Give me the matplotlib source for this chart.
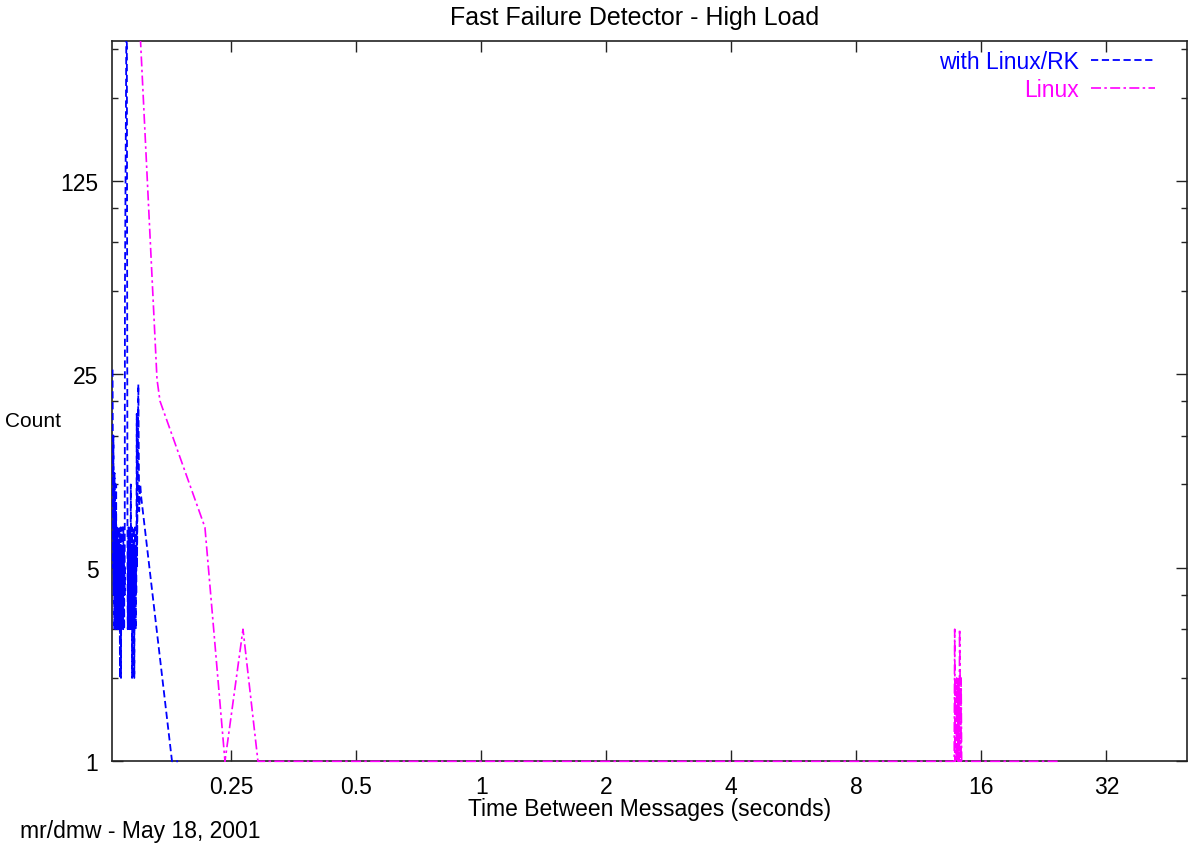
import matplotlib
matplotlib.use("Agg")
import matplotlib.pyplot as plt
from matplotlib.patches import Rectangle
from matplotlib.ticker import FixedLocator, FixedFormatter, LogLocator, NullFormatter, NullLocator

# histogram of inter-message times (seconds) vs. count
rk_time = [
    0.1297, 0.1299, 0.1301, 0.1303, 0.1305, 0.1307, 0.1309, 0.1311, 0.1313, 0.1315,
    0.1317, 0.1319, 0.1321, 0.1323, 0.1325, 0.1327, 0.1329, 0.1331, 0.1333, 0.1335,
    0.1337, 0.1339, 0.1341, 0.1343, 0.1345, 0.1347, 0.1349, 0.1351, 0.1353, 0.1355,
    0.1357, 0.1359, 0.1361, 0.1363, 0.1365, 0.1367, 0.1369, 0.1371, 0.1373, 0.1375,
    0.1377, 0.1379, 0.1381, 0.1383, 0.1385, 0.1387, 0.1389, 0.1403, 0.1409, 0.1411,
    0.1413, 0.1415, 0.1417, 0.1419, 0.1421, 0.1423, 0.1425, 0.1427, 0.1429, 0.1431,
    0.1433, 0.1435, 0.1437, 0.1439, 0.1441, 0.1443, 0.1445, 0.1447, 0.1449, 0.1451,
    0.1453, 0.1455, 0.1457, 0.1459, 0.1461, 0.1463, 0.1465, 0.1467, 0.1469, 0.1471,
    0.1473, 0.1475, 0.1477, 0.1479, 0.1481, 0.1483, 0.1485, 0.1496, 0.1503, 0.1512,
    0.1520, 0.1803, 0.1864,
]
rk_count = [
    26, 12, 5, 15, 4, 10, 3, 11, 5, 9,
    3, 8, 4, 10, 3, 7, 4, 6, 3, 7,
    5, 3, 6, 4, 7, 3, 5, 2, 6, 3,
    7, 2, 5, 3, 6, 4, 7, 3, 5, 3,
    7, 4, 6, 3, 5, 4, 50, 800, 5, 3,
    6, 4, 7, 3, 5, 3, 7, 4, 6, 3,
    5, 10, 4, 6, 3, 7, 2, 5, 3, 6,
    2, 4, 7, 3, 5, 2, 6, 3, 7, 4,
    6, 3, 5, 4, 7, 18, 5, 23, 8, 10,
    9, 1, 1,
]

linux_time = [
    0.147, 0.1659, 0.1687, 0.2164, 0.2418, 0.2672, 0.2903, 0.5, 1, 2,
    4, 8, 13.68, 13.76, 13.80, 13.83, 13.87, 13.91, 13.95, 13.99,
    14.03, 14.07, 14.10, 14.14, 14.18, 14.22, 14.26, 14.30, 14.34, 14.40,
    16, 20, 24.7,
]
linux_count = [
    1000, 24, 20, 7, 1, 3, 1, 1, 1, 1,
    1, 1, 1, 1, 3, 1, 2, 1, 2, 1,
    2, 1, 2, 1, 3, 2, 1, 2, 1, 1,
    1, 1, 1,
]

x_ticks = [0.25, 0.5, 1, 2, 4, 8, 16, 32]
x_tick_labels = ["0.25", "0.5", "1", "2", "4", "8", "16", "32"]
y_ticks = [1, 5, 25, 125]
y_tick_labels = ["1", "5", "25", "125"]

plt.rcParams["font.family"] = ["Liberation Sans", "DejaVu Sans"]
FS = 16.5
W, H = 1195, 845

fig = plt.figure(figsize=(W / 100, H / 100), dpi=100)
left, right, top, bottom = 112.3, 1187.0, 42.0, 762.3
ax = fig.add_axes([left / W, 1 - bottom / H, (right - left) / W, (bottom - top) / H])
ax.set_xscale("log", base=2)
ax.set_yscale("log", base=5)

rk_line, = ax.plot(rk_time, rk_count, color="#0000ff", lw=1.3, dashes=(4, 2),
                   label="with Linux/RK", zorder=3)
lx_line, = ax.plot(linux_time, linux_count, color="#ff00ff", lw=1.2, dashes=(6, 2, 1.5, 2),
                   label="Linux", zorder=3)
# let the count=1 segments show on top of the bottom axis line
clip = Rectangle((0, -0.005), 1, 1.005, transform=ax.transAxes, visible=False)
ax.add_patch(clip)
for ln in (rk_line, lx_line):
    ln.set_clip_path(clip)

ax.set_xlim(0.1295, 50)
ax.set_ylim(1, 400)

ax.xaxis.set_major_locator(FixedLocator(x_ticks))
ax.xaxis.set_major_formatter(FixedFormatter(x_tick_labels))
ax.xaxis.set_minor_locator(NullLocator())
ax.yaxis.set_major_locator(FixedLocator(y_ticks))
ax.yaxis.set_major_formatter(FixedFormatter(y_tick_labels))
ax.yaxis.set_minor_locator(LogLocator(base=5, subs=(2, 3, 4)))
ax.yaxis.set_minor_formatter(NullFormatter())

ax.tick_params(which="both", direction="in", top=True, right=True,
               labelsize=FS, color="#222222", width=1.0, pad=10)
ax.tick_params(which="major", length=8)
ax.tick_params(which="minor", length=4)
for s in ax.spines.values():
    s.set_linewidth(1.2)
    s.set_color("#222222")

ax.legend(loc="upper right", bbox_to_anchor=(0.9702, 0.987), borderaxespad=0,
          borderpad=0, markerfirst=False, frameon=False, labelcolor="linecolor",
          handlelength=2.8, handletextpad=0.5, labelspacing=0.22, fontsize=FS)

fig.text(635 / W, 1 - 18 / H, "Fast Failure Detector - High Load", ha="center", va="center", fontsize=18)
fig.text(650 / W, 1 - 810 / H, "Time Between Messages (seconds)", ha="center", va="center", fontsize=FS)
fig.text(33 / W, 1 - 422 / H, "Count", ha="center", va="center", fontsize=15)
fig.text(20 / W, 1 - 832 / H, "mr/dmw - May 18, 2001", ha="left", va="center", fontsize=FS)

fig.savefig("out.png", dpi=100)
